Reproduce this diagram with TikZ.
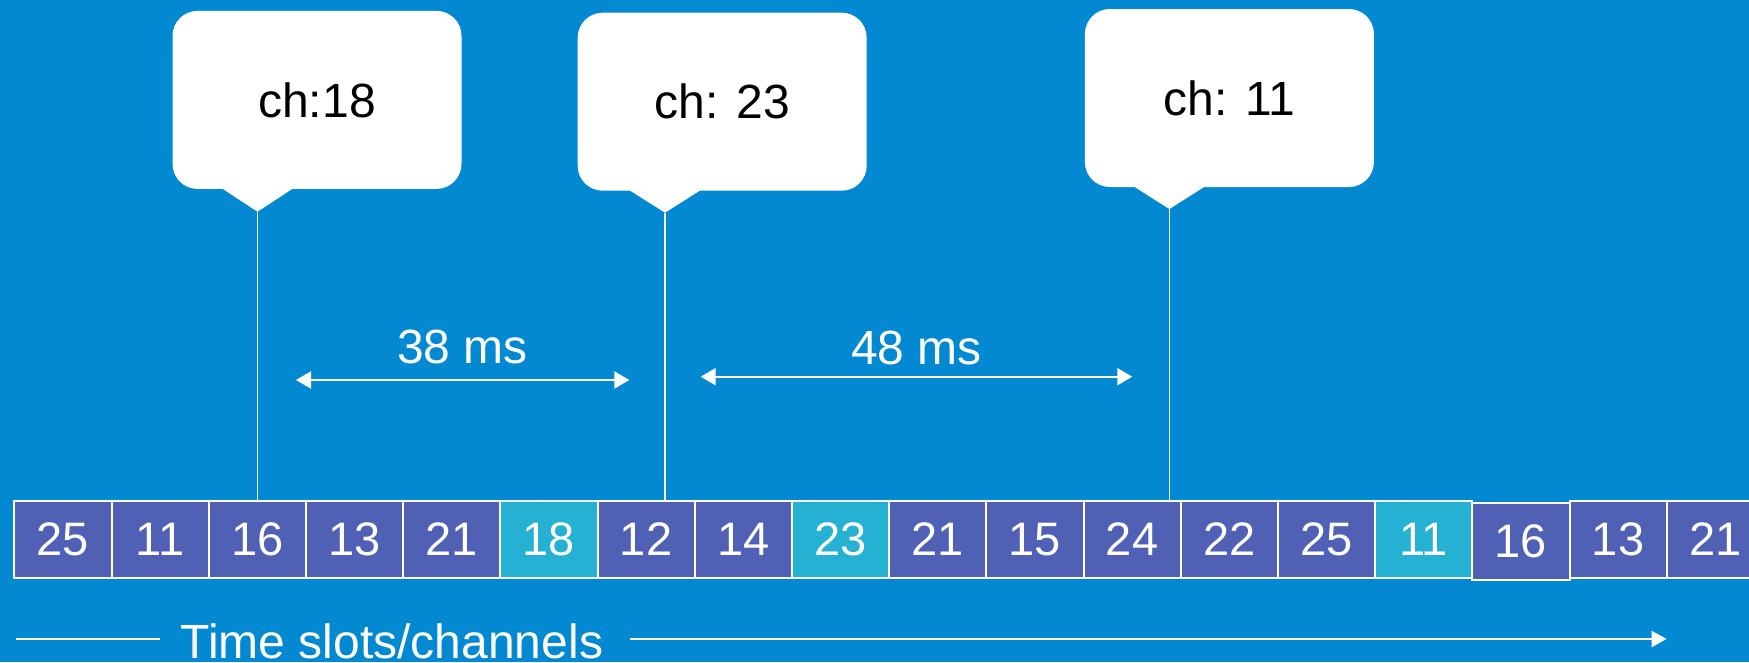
\documentclass[tikz,border=0pt]{standalone}
\usepackage{fontspec}
\setmainfont{Liberation Sans}
\usetikzlibrary{arrows.meta,calc}
\definecolor{bgblue}{RGB}{2,137,209}
\definecolor{slotdark}{RGB}{79,96,181}
\definecolor{slotcyan}{RGB}{37,177,212}

\begin{document}
\begin{tikzpicture}[x=1pt,y=-1pt,
  slot/.style={draw=white, line width=2pt, minimum width=97.2pt, minimum height=77pt,
    inner sep=0pt, outer sep=0pt, anchor=north west, text=white,
    font=\fontsize{47}{56}\selectfont},
  bubble/.style={fill=white, rounded corners=25pt, minimum width=289pt, minimum height=178pt,
    inner sep=0pt, text=black, font=\fontsize{48}{58}\selectfont},
  vline/.style={draw=white, line width=1.3pt},
  span/.style={draw=white, line width=2pt,
    arrows={Triangle[length=15pt,width=17pt]-Triangle[length=15pt,width=17pt]}},
  axisline/.style={draw=white, line width=2pt},
  axisarrow/.style={axisline, arrows={-Triangle[length=15pt,width=16pt]}},
  lbl/.style={text=white, inner sep=0pt, font=\fontsize{48}{58}\selectfont},
]
% canvas
\useasboundingbox (0,0) rectangle (1749,662);
\fill[bgblue] (0,0) rectangle (1749,662);
\clip (0,0) rectangle (1749,662);

% time slots with their channel numbers
\foreach \v/\c/\d [count=\i from 0] in {
  25/slotdark/0, 11/slotdark/0, 16/slotdark/0, 13/slotdark/0, 21/slotdark/0,
  18/slotcyan/0, 12/slotdark/0, 14/slotdark/0, 23/slotcyan/0, 21/slotdark/0,
  15/slotdark/0, 24/slotdark/0, 22/slotdark/0, 25/slotdark/0, 11/slotcyan/0,
  16/slotdark/1.5, 13/slotdark/0, 21/slotdark/0} {
  \node[slot, fill=\c] (s\i) at ({14.3+97.2*\i}, {501+\d}) {\v};
}

% callout bubbles
\node[bubble] (c1) at (317,99.9) {ch:18};
\node[bubble] (c2) at (722.2,101.7) {ch: 23};
\node[bubble] (c3) at (1229.4,98) {ch: 11};
\coordinate (t1) at (257.5,211.7);
\coordinate (t2) at (665,212.7);
\coordinate (t3) at (1169.4,209);
\foreach \k in {1,2,3} {
  \fill[white] ($(c\k.south -| t\k)+(-36,-1)$) -- (t\k) -- ($(c\k.south -| t\k)+(36,-1)$) -- cycle;
}

% markers down to the slots
\draw[vline] (t1) -- (t1 |- s2.north);
\draw[vline] (t2) -- (t2 |- s6.north);
\draw[vline] (t3) -- (t3 |- s11.north);

% intervals between hops
\coordinate (a1) at (296,380);
\coordinate (b1) at (629.3,380);
\coordinate (a2) at (700.7,376.7);
\coordinate (b2) at (1132.3,376.7);
\draw[span] (a1) -- (b1);
\draw[span] (a2) -- (b2);
\node[lbl, anchor=base] (m1) at ($(a1)!0.5!(b1)+(0,-17)$) {38 ms};
\node[lbl, anchor=base] (m2) at ($(a2)!0.5!(b2)+(0,-12.7)$) {48 ms};

% time axis
\coordinate (x0) at (15.5,639);
\coordinate (x1) at (160,639);
\coordinate (x2) at (630,639);
\coordinate (x3) at (1666.6,639);
\draw[axisline] (x0) -- (x1);
\node[lbl, anchor=base west] (axis) at (180.5,658) {Time slots/channels};
\draw[axisarrow] (x2) -- (x3);
\end{tikzpicture}
\end{document}
